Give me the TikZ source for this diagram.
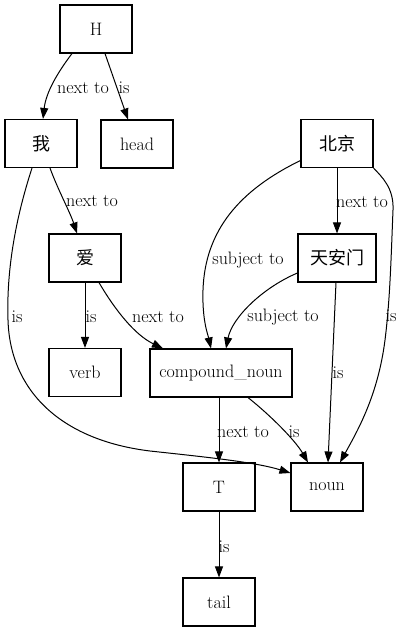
\documentclass[tikz,border=0pt]{standalone}
\usepackage{fontspec}
\newfontfamily\cjk{Noto Sans CJK SC}
\usetikzlibrary{arrows.meta}
\tikzset{
  box/.style={draw, line width=1.1pt, minimum width=72pt, minimum height=48pt, inner sep=2pt, font=\rmfamily\fontsize{18}{22}\selectfont},
  lbl/.style={inner sep=0pt, font=\rmfamily\fontsize{18}{22}\selectfont},
  edge/.style={line width=1pt, -{Triangle[length=11pt,width=8pt]}}
}
\begin{document}
\begin{tikzpicture}[x=1pt,y=-1pt]
\useasboundingbox (0,0) rectangle (403,632);
\node[box] (H) at (96,29) {H};
\node[box] (wo) at (41,143.5) {{\cjk 我}};
\node[box] (head) at (137,144) {head};
\node[box] (bj) at (337,143.5) {{\cjk 北京}};
\node[box] (ai) at (85,258) {{\cjk 爱}};
\node[box, minimum width=78pt] (tam) at (337,258) {{\cjk 天安门}};
\node[box] (verb) at (85,372.5) {verb};
\node[box, minimum width=142pt] (cn) at (221,373) {compound\_noun};
\node[box] (T) at (219,487) {T};
\node[box] (noun) at (327,487) {noun};
\node[box] (tail) at (219,602) {tail};

\draw[edge] ([xshift=-24pt]H.south) .. controls (58,72) and (46,92) .. ([xshift=2pt]wo.north);
\draw[edge] ([xshift=9pt]H.south) -- ([xshift=-9pt]head.north);
\draw[edge] ([xshift=9pt]wo.south) .. controls (58,190) and (70,212) .. ([xshift=-8pt]ai.north);
\draw[edge] ([xshift=-9pt]wo.south) .. controls (20,205) and (6,260) .. (8,320)
   .. controls (10,390) and (60,440) .. (150,451)
   .. controls (205,457) and (255,462) .. ([yshift=14pt]noun.west);
\draw[edge] (bj.south) -- (tam.north);
\draw[edge] ([yshift=-17pt]bj.west) .. controls (240,190) and (205,230) .. (203,290)
   .. controls (202,320) and (208,335) .. ([xshift=-10pt]cn.north);
\draw[edge] ([yshift=-15pt]tam.west) .. controls (262,288) and (232,318) .. ([xshift=5pt]cn.north);
\draw[edge] ([xshift=-1pt]tam.south) -- ([xshift=1pt]noun.north);
\draw[edge] (bj.south east) .. controls (382,177) and (394,188) .. (393,210)
   .. controls (391,260) and (390,300) .. (385,340)
   .. controls (378,395) and (358,430) .. ([xshift=13pt]noun.north);
\draw[edge] (ai.south) -- (verb.north);
\draw[edge] ([xshift=14pt]ai.south) .. controls (115,310) and (135,335) .. ([xshift=-58pt]cn.north);
\draw[edge] ([xshift=-2pt]cn.south) -- (T.north);
\draw[edge] ([xshift=27pt]cn.south) .. controls (270,415) and (295,440) .. ([xshift=-19pt]noun.north);
\draw[edge] (T.south) -- (tail.north);

\node[lbl] (l1) at (83,88) {next to};
\node[lbl] (l2) at (124,88) {is};
\node[lbl] (l3) at (92,201) {next to};
\node[lbl] (l4) at (17,317) {is};
\node[lbl] (l5) at (362,202) {next to};
\node[lbl] (l6) at (248,260) {subject to};
\node[lbl] (l7) at (283,317) {subject to};
\node[lbl] (l8) at (338,373) {is};
\node[lbl] (l9) at (391,316) {is};
\node[lbl] (l10) at (91,317) {is};
\node[lbl] (l11) at (158,317) {next to};
\node[lbl] (l12) at (243,432) {next to};
\node[lbl] (l13) at (294,432) {is};
\node[lbl] (l14) at (224,547) {is};
\end{tikzpicture}
\end{document}
